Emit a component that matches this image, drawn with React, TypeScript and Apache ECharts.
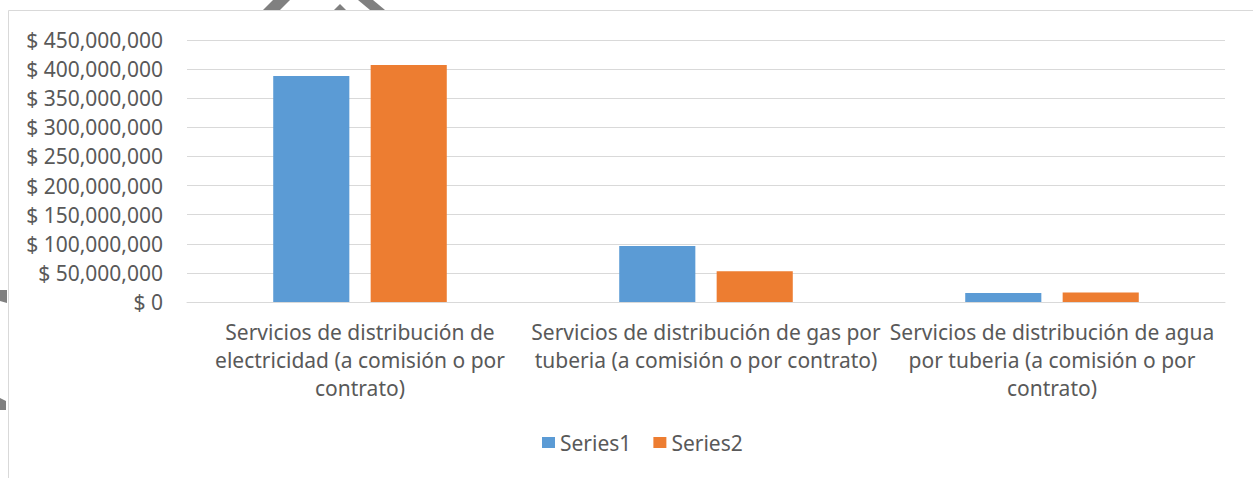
import React, { useEffect, useRef } from "react";
import * as echarts from "echarts";

const categories = [
  "Servicios de distribución de\nelectricidad (a comisión o por\ncontrato)",
  "Servicios de distribución de gas por\ntuberia (a comisión o por contrato)",
  "Servicios de distribución de agua\npor tuberia (a comisión o por\ncontrato)",
];
const series1 = [388000000, 96000000, 15500000];
const series2 = [407000000, 53000000, 16500000];
const seriesNames = ["Series1", "Series2"];

export default function App() {
  const ref = useRef<HTMLDivElement>(null);
  useEffect(() => {
    document.body.style.margin = "0";
    const chart = echarts.init(ref.current!, undefined, { renderer: "svg" });
    const font = "'Noto Sans', Calibri, sans-serif";
    chart.setOption({
      animation: false,
      textStyle: { fontFamily: font },
      grid: { left: 187, right: 28, top: 40, bottom: 176 },
      legend: {
        data: seriesNames,
        bottom: 20,
        left: 537,
        itemWidth: 13,
        itemHeight: 11,
        itemGap: 22,
        icon: "rect",
        textStyle: { fontSize: 21, color: "#595959", fontFamily: font },
      },
      xAxis: {
        type: "category",
        data: categories,
        axisLine: { lineStyle: { color: "#d9d9d9", width: 1 } },
        axisTick: { show: false },
        axisLabel: {
          fontSize: 21,
          color: "#595959",
          lineHeight: 28,
          margin: 16,
          interval: 0,
          fontFamily: font,
        },
      },
      yAxis: {
        type: "value",
        min: 0,
        max: 450000000,
        interval: 50000000,
        axisLine: { show: false },
        axisTick: { show: false },
        splitLine: { lineStyle: { color: "#d9d9d9", width: 1 } },
        axisLabel: {
          fontSize: 21,
          color: "#595959",
          margin: 24,
          fontFamily: font,
          formatter: (v: number) => "$ " + v.toLocaleString("en-US"),
        },
      },
      series: [
        {
          name: seriesNames[0],
          type: "bar",
          data: series1,
          barWidth: "22%",
          barGap: "28%",
          itemStyle: { color: "#5b9bd5" },
        },
        {
          name: seriesNames[1],
          type: "bar",
          data: series2,
          barWidth: "22%",
          itemStyle: { color: "#ed7d31" },
        },
      ],
      graphic: [
        {
          type: "rect",
          silent: true,
          shape: { x: 8.5, y: 10.5, width: 1300, height: 500 },
          style: { fill: "none", stroke: "#d9d9d9", lineWidth: 1 },
        },
        {
          type: "polygon",
          silent: true,
          shape: { points: [[263, 10], [280, 10], [290, 0], [273, 0]] },
          style: { fill: "#808080" },
        },
        {
          type: "polygon",
          silent: true,
          shape: { points: [[358, 0], [373, 0], [385, 10], [370, 10]] },
          style: { fill: "#808080" },
        },
        {
          type: "polygon",
          silent: true,
          shape: { points: [[334, 10], [340, 4], [346, 10]] },
          style: { fill: "#808080" },
        },
        {
          type: "polygon",
          silent: true,
          shape: { points: [[0, 290], [7, 290], [7, 303], [0, 301]] },
          style: { fill: "#808080" },
        },
        {
          type: "polygon",
          silent: true,
          shape: { points: [[0, 398], [6, 401], [6, 410], [0, 410]] },
          style: { fill: "#808080" },
        },
      ],
    });
    return () => chart.dispose();
  }, []);
  return <div ref={ref} style={{ width: 1253, height: 478 }} />;
}
